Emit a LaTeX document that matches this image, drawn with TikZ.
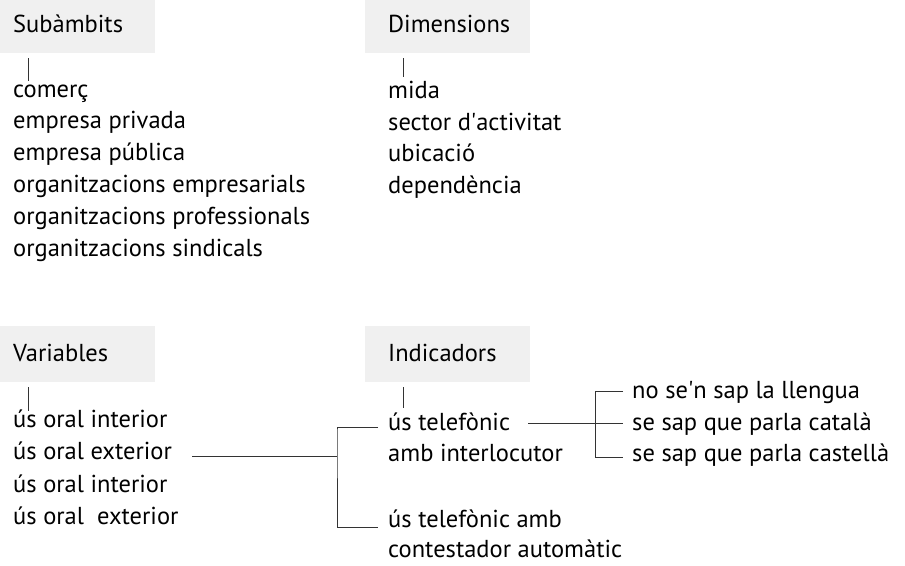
\documentclass[tikz,border=0pt]{standalone}
\usepackage{fontspec}
\setmainfont{PT Sans}

\begin{document}
\begin{tikzpicture}[x=1pt, y=-1pt]
\tikzset{edge/.style = {-, line width=0.8pt, black!80}}
\tikzset{header/.style = {anchor=north west, fill=black!6, inner xsep=23pt, inner ysep=0pt,
  text width=119pt, align=left, minimum height=56pt, text height=15pt, text depth=0pt}}
\tikzset{item/.style = {anchor=base west, inner sep=0pt, text height=15pt, text depth=4pt}}
\tikzset{every node/.style = {font=\fontsize{24.5}{28}\selectfont, text=black}}
\useasboundingbox (0,0) rectangle (905,565);
% headers
\node[header](subh) at (-10,-3) {Subàmbits};
\node[header](dimh) at (365,-3) {Dimensions};
\node[header](varh) at (-10,326) {Variables};
\node[header](indh) at (365,326) {Indicadors};
% subambits
\node[item](comerc) at (13,97) {comerç};
\node[item](emppriv) at (13,128.8) {empresa privada};
\node[item](emppub) at (13,160.6) {empresa pública};
\node[item](orgemp) at (13,192.4) {organitzacions empresarials};
\node[item](orgprof) at (13,224.2) {organitzacions professionals};
\node[item](orgsind) at (13,256) {organitzacions sindicals};
% dimensions
\node[item](mida) at (388,98.5) {mida};
\node[item](sector) at (388,130) {sector d\textquotesingle activitat};
\node[item](ubic) at (388,161.5) {ubicació};
\node[item](depen) at (388,193) {dependència};
% variables
\node[item](varinta) at (13,427) {ús oral interior};
\node[item](varexta) at (13,459.5) {ús oral exterior};
\node[item](varintb) at (13,492) {ús oral interior};
\node[item](varextb) at (13,524.5) {ús oral \ exterior};
% indicadors
\node[item](tela) at (388,430) {ús telefònic};
\node[item](interl) at (388,461) {amb interlocutor};
\node[item](telb) at (388,527) {ús telefònic amb};
\node[item](contes) at (388,557) {contestador automàtic};
\node[item](nosap) at (632,398) {no se\textquotesingle n sap la llengua};
\node[item](catala) at (632,430) {se sap que parla català};
\node[item](castella) at (632,461) {se sap que parla castellà};
% ticks
\draw[edge] ([xshift=38pt,yshift=-5pt]subh.south west) -- ([xshift=15pt,yshift=16pt]comerc.base west);
\draw[edge] ([xshift=38pt,yshift=-5pt]dimh.south west) -- ([xshift=15pt,yshift=22pt]mida.base west);
\draw[edge] ([xshift=38pt,yshift=-5pt]varh.south west) -- ([xshift=15pt,yshift=16pt]varinta.base west);
\draw[edge] ([xshift=38pt,yshift=-5pt]indh.south west) -- ([xshift=15pt,yshift=22pt]tela.base west);
% brackets
\coordinate (fork) at ([xshift=-51pt]tela.base west);
\draw[edge] ([xshift=20pt,yshift=3pt]varexta.base east) -- ([yshift=3pt]varexta.base east -| fork);
\draw[edge] ([xshift=-10pt,yshift=3pt]tela.base west) -| (fork) |- ([xshift=-10pt]telb.base west);
\draw[edge] ([xshift=18pt,yshift=7pt]tela.base east) -- ([xshift=-9pt,yshift=7pt]catala.base west);
\draw[edge] ([xshift=-9pt,yshift=7pt]nosap.base west) -- ++(-28pt,0) |- ([xshift=-9pt,yshift=4pt]castella.base west);
\end{tikzpicture}
\end{document}
